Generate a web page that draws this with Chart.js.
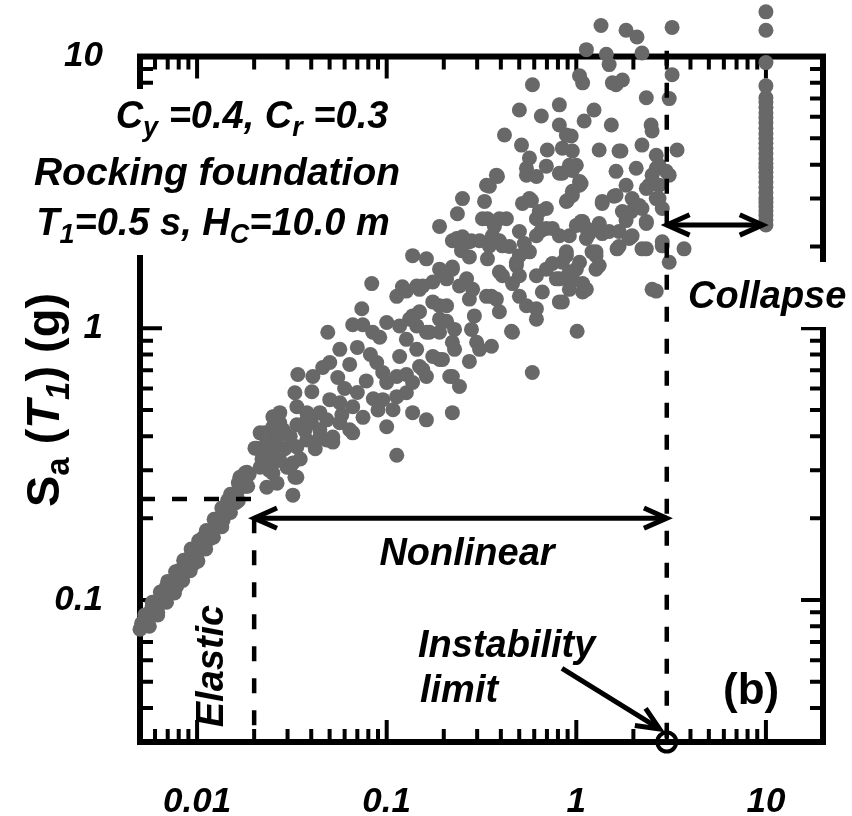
<!DOCTYPE html>
<html>
<head>
<meta charset="utf-8">
<script src="https://cdn.jsdelivr.net/npm/chart.js@4.4.1/dist/chart.umd.min.js"></script>
<style>
html, body { margin: 0; padding: 0; background: #fff; }
</style>
</head>
<body>
<canvas id="chart" width="852" height="816"></canvas>
<script>
// values: x = drift, y = Sa(T1) in g
var elasticPts = [
	[0.0050,0.078],[0.0051,0.082],[0.0053,0.081],[0.0054,0.086],[0.0056,0.087],[0.0057,0.091],
	[0.0059,0.090],[0.0061,0.095],[0.0062,0.099],[0.0064,0.097],[0.0066,0.102],[0.0068,0.106],
	[0.0070,0.104],[0.0071,0.110],[0.0073,0.113],[0.0075,0.111],[0.0077,0.118],[0.0079,0.121],
	[0.0081,0.119],[0.0083,0.126],[0.0085,0.130],[0.0088,0.128],[0.0090,0.135],[0.0092,0.139],
	[0.0095,0.137],[0.0097,0.144],[0.0100,0.149],[0.0103,0.152],[0.0106,0.158],[0.0109,0.163],
	[0.0112,0.166],[0.0115,0.174],[0.0118,0.180],[0.0122,0.182],[0.0126,0.190],[0.0130,0.197],
	[0.0134,0.200],[0.0138,0.210],[0.0142,0.218],[0.0147,0.222],[0.0151,0.232],[0.0156,0.240],
	[0.0161,0.245],[0.0166,0.256],[0.0171,0.265],[0.0176,0.270],[0.0182,0.282],[0.0188,0.290],
	[0.0058,0.095],[0.0069,0.112],[0.0080,0.128],[0.0093,0.146],[0.0108,0.170],[0.0125,0.198],
	[0.0145,0.232],[0.0062,0.090],[0.0078,0.112],[0.0096,0.136],[0.0117,0.168],[0.0137,0.196],
	[0.0160,0.228],[0.0180,0.262],
	[0.0053,0.088],[0.0058,0.098],[0.0064,0.107],[0.0070,0.117],[0.0077,0.127],[0.0085,0.140],
	[0.0093,0.154],[0.0102,0.165],[0.0112,0.180],[0.0123,0.198],[0.0135,0.218],[0.0150,0.245],
	[0.0165,0.270],[0.0056,0.080],[0.0062,0.088],[0.0069,0.098],[0.0076,0.106],[0.0084,0.118],
	[0.0092,0.128],[0.0101,0.139],[0.0111,0.154],[0.0122,0.170],[0.0135,0.186],[0.0150,0.210],
	[0.0165,0.232],[0.0185,0.262]
];

var inelasticPts = [
	[0.0168,0.283],[0.0183,0.295],[0.0179,0.293],[0.0202,0.362],[0.0207,0.362],[0.0215,0.308],
	[0.0215,0.412],[0.0228,0.412],[0.0233,0.388],[0.0233,0.356],[0.0233,0.26],[0.0242,0.347],
	[0.0251,0.434],[0.0251,0.319],[0.0251,0.293],[0.0251,0.472],[0.0264,0.269],[0.0273,0.449],
	[0.0273,0.327],[0.0273,0.356],[0.0273,0.489],[0.0284,0.423],[0.0284,0.412],[0.0298,0.308],
	[0.0309,0.308],[0.032,0.319],[0.0328,0.283],[0.032,0.243],[0.0336,0.441],[0.0336,0.283],
	[0.0336,0.366],[0.0336,0.514],[0.0328,0.579],[0.034,0.676],[0.0379,0.46],[0.0379,0.388],
	[0.0379,0.489],[0.0403,0.584],[0.0408,0.664],[0.0444,0.423],[0.0444,0.398],[0.0444,0.489],
	[0.046,0.717],[0.0483,0.388],[0.0483,0.46],[0.0489,0.966],[0.0501,0.748],[0.0501,0.546],
	[0.052,0.398],[0.052,0.381],[0.022,0.33],[0.026,0.38],[0.029,0.36],[0.031,0.40],
	[0.035,0.33],[0.037,0.42],[0.040,0.45],[0.042,0.36],[0.027,0.40],[0.024,0.30],
	[0.0552,0.659],[0.0566,0.836],[0.0566,0.532],[0.0566,0.449],[0.0638,0.736],[0.0638,0.423],
	[0.0662,1.03],[0.0662,0.514],[0.0662,0.412],[0.0739,1.18],[0.0748,1.03],[0.0834,1.46],
	[0.0844,0.966],[0.0886,0.748],[0.0919,0.926],[0.0953,0.687],[0.0953,0.546],[0.1,1.05],
	[0.1,0.631],[0.1,0.434],[0.06,0.60],[0.07,0.58],[0.078,0.64],[0.085,0.55],
	[0.058,0.48],[0.075,0.47],[0.09,0.50],[0.082,0.80],[0.07,0.85],
	[0.108,0.501],[0.113,1.31],[0.113,0.664],[0.113,0.56],[0.113,0.341],[0.117,1.02],
	[0.117,0.787],[0.121,1.42],[0.127,1.37],[0.127,0.91],[0.127,0.676],[0.127,0.579],
	[0.132,1.08],[0.137,1.85],[0.137,1.11],[0.137,0.631],[0.137,0.489],[0.144,1.43],
	[0.144,0.836],[0.144,1.02],[0.149,1.39],[0.149,1.15],[0.149,0.723],[0.155,1.43],
	[0.155,0.705],[0.162,0.966],[0.162,0.664],[0.162,0.46],[0.162,1.8],[0.168,0.966],
	[0.175,1.48],[0.175,1.25],[0.175,0.787],[0.19,2.37],[0.19,1.65],[0.19,1.21],
	[0.19,0.966],[0.19,0.768],[0.19,1.08],[0.197,1.61],[0.197,0.768],
	[0.207,1.52],[0.207,1.21],[0.207,1.06],[0.215,0.664],[0.222,1.65],[0.222,1.68],
	[0.222,2.1],[0.222,0.888],[0.222,0.664],[0.222,0.489],[0.228,0.99],[0.228,0.836],
	[0.234,2.14],[0.236,2.64],[0.242,1.43],[0.242,0.61],[0.248,1.93],[0.251,3.0],
	[0.251,2.17],[0.264,1.52],[0.273,1.83],[0.273,1.28],[0.273,2.08],[0.273,0.755],
	[0.28,2.1],[0.28,0.99],[0.284,1.39],[0.29,1.11],[0.298,0.888],
	[0.309,2.1],[0.309,0.836],[0.32,2.53],[0.328,2.93],[0.336,3.36],[0.336,1.31],
	[0.34,1.8],[0.34,2.53],[0.348,3.33],[0.348,2.01],[0.357,1.31],[0.357,0.858],
	[0.361,2.19],[0.37,2.37],[0.379,1.28],[0.379,3.66],[0.384,3.62],[0.393,2.53],
	[0.393,1.61],[0.393,1.15],[0.393,2.1],[0.408,2.01],[0.408,1.56],[0.418,5.14],
	[0.428,2.53],[0.444,2.0],[0.455,0.975],[0.461,1.46],[0.461,0.966],[0.483,1.7],[0.483,1.75],
	[0.501,2.27],[0.501,1.85],[0.501,1.31],[0.501,1.56],[0.501,6.36],[0.514,4.72],
	[0.52,2.88],[0.532,2.05],[0.546,3.66],[0.546,3.88],[0.546,1.21],[0.566,3.0],
	[0.566,4.23],[0.566,1.91],[0.58,2.95],[0.586,0.687],[0.587,7.87],[0.616,3.62],
	[0.616,2.53],[0.616,2.19],[0.616,1.56],[0.616,1.18],[0.616,1.08],[0.638,2.69],
	[0.654,2.29],[0.654,6.04],[0.662,1.36],[0.695,3.95],[0.695,2.76],[0.695,2.33],
	[0.695,1.65],[0.703,4.53],[0.748,2.33],[0.748,1.73],[0.785,1.52],[0.814,3.72],
	[0.814,6.64],[0.814,5.6],[0.814,2.19],[0.814,1.25],[0.814,1.52],[0.844,4.6],
	[0.844,3.72],[0.844,1.75],[0.844,1.25],[0.886,5.14],[0.886,1.91],[0.886,2.93],
	[0.886,1.85],[0.886,1.54],[0.897,2.95],[0.919,2.19],[0.919,1.61],[0.919,1.39],
	[0.919,3.98],[0.94,5.1],[0.953,3.81],[0.953,3.19],[0.953,1.52],[0.953,4.49],[0.953,3.08],
	[1.0,3.98],[1.0,2.39],[1.0,1.65],[1.01,0.975],[1.04,8.5],[1.04,3.47],
	[1.04,3.36],[1.04,1.75],[1.06,3.41],[1.06,2.47],[1.08,8.0],[1.08,1.46],
	[1.08,1.36],[1.08,2.47],[1.1,5.79],[1.13,10.6],[1.13,2.14],[1.13,2.33],
	[1.13,1.39],[1.17,2.23],[1.21,1.91],[1.24,6.36],[1.27,1.91],[1.27,1.65],
	[1.27,1.85],[1.32,4.53],[1.32,2.39],[1.32,2.43],[1.32,1.7],[1.35,13.0],
	[1.37,2.93],[1.37,2.88],[1.37,2.23],[1.44,10.2],[1.49,9.34],[1.49,2.27],
	[1.53,5.6],[1.55,8.0],[1.58,3.06],[1.62,7.87],[1.62,3.78],[1.62,3.08],
	[1.64,1.96],[1.68,4.49],[1.68,2.27],[1.68,2.0],[1.72,4.49],[1.75,8.2],
	[1.75,2.69],[1.83,12.5],[1.83,3.36],[1.83,2.49],[1.9,2.14],[1.95,2.69],
	[1.95,2.17],[1.97,3.0],[1.97,2.19],[2.07,3.88],[2.09,11.8],[2.15,2.83],
	[2.22,10.3],[2.22,4.72],[2.22,2.76],[2.22,1.96],[2.34,7.05],[2.34,3.27],
	[2.34,2.47],[2.34,2.43],[2.34,1.96],[2.42,3.36],[2.48,5.6],[2.51,5.32],
	[2.51,3.66],[2.51,1.39],[2.64,4.33],[2.64,3.88],[2.64,3.0],[2.64,1.37],
	[2.73,3.98],[2.73,3.36],[2.73,3.0],[2.84,2.76],[2.84,2.08],[2.84,2.01],
	[2.98,3.78],[3.09,7.0],[3.09,3.66],[3.09,1.75],[3.2,12.8],[3.2,8.57],
	[3.4,4.53],[3.7,1.96]
];

var collapseX = 10;
var collapseY = [2.4,2.5,2.6,2.7,2.8,2.9,3.0,3.15,3.3,3.45,3.6,3.75,3.9,4.05,4.2,4.4,
	4.6,4.8,5.0,5.2,5.45,5.7,5.95,6.2,6.5,6.8,7.05,7.8,9.5,12.5,14.6];

var xTicks = [0.01, 0.1, 1, 10];
var xTickLabels = ["0.01", "0.1", "1", "10"];
var yTicks = [0.1, 1, 10];
var yTickLabels = ["0.1", "1", "10"];

// reference lines of the figure
var instabilityX = 3;
var elasticX = 0.02;
var elasticY = 0.235;
var nonlinearArrowY = 0.2;
var collapseArrowY = 2.4;
var instabilityArrow = [[0.84, 0.056], [2.75, 0.0335]];
var frameTopY = 10;

var FONT = '"Liberation Sans", Arial, Helvetica, sans-serif';
var DOT = "#686868";

function toXY(p) { return { x: p[0], y: p[1] }; }

function tickLabel(vals, labels) {
	return function (v) {
		for (var i = 0; i < vals.length; i++) {
			if (Math.abs(vals[i] - v) / vals[i] < 1e-6) return labels[i];
		}
		return "";
	};
}

// text with subscripts, parts = [text, sub, italic]
function richText(ctx, parts, x, y, size, align) {
	var subSize = Math.round(size * 0.7);
	var widths = [];
	var total = 0;
	parts.forEach(function (p) {
		ctx.font = (p[2] === false ? "" : "italic ") + "bold " + (p[1] ? subSize : size) + "px " + FONT;
		var w = ctx.measureText(p[0]).width;
		widths.push(w);
		total += w;
	});
	var cx = align === "center" ? x - total / 2 : x;
	ctx.textAlign = "left";
	ctx.textBaseline = "alphabetic";
	parts.forEach(function (p, i) {
		ctx.font = (p[2] === false ? "" : "italic ") + "bold " + (p[1] ? subSize : size) + "px " + FONT;
		ctx.fillText(p[0], cx, p[1] ? y + size * 0.22 : y);
		cx += widths[i];
	});
}

function arrowHead(ctx, x, y, ang) {
	var L = 25, s = 0.42;
	ctx.beginPath();
	ctx.moveTo(x - L * Math.cos(ang - s), y - L * Math.sin(ang - s));
	ctx.lineTo(x, y);
	ctx.lineTo(x - L * Math.cos(ang + s), y - L * Math.sin(ang + s));
	ctx.stroke();
}

function arrow(ctx, x1, y1, x2, y2, both) {
	ctx.beginPath();
	ctx.moveTo(x1, y1);
	ctx.lineTo(x2, y2);
	ctx.stroke();
	arrowHead(ctx, x2, y2, Math.atan2(y2 - y1, x2 - x1));
	if (both) arrowHead(ctx, x1, y1, Math.atan2(y1 - y2, x1 - x2));
}

var framePlugin = {
	id: "frame",
	beforeDatasetsDraw: function (chart) {
		var ctx = chart.ctx, a = chart.chartArea;
		var xs = chart.scales.x, ys = chart.scales.y;
		var top = ys.getPixelForValue(frameTopY);
		ctx.save();
		ctx.strokeStyle = "#000";
		ctx.lineWidth = 4;
		ctx.beginPath();
		for (var e = -3; e <= 1; e++) {
			for (var m = 1; m <= 9; m++) {
				var v = m * Math.pow(10, e);
				var len = m === 1 ? 22 : 13;
				if (v > xs.min * 1.001 && v < xs.max * 0.999) {
					var px = xs.getPixelForValue(v);
					ctx.moveTo(px, a.bottom); ctx.lineTo(px, a.bottom - len);
					ctx.moveTo(px, top); ctx.lineTo(px, top + len);
				}
				if (v > ys.min * 1.001 && v < frameTopY * 0.999) {
					var py = ys.getPixelForValue(v);
					ctx.moveTo(a.left, py); ctx.lineTo(a.left + len, py);
					ctx.moveTo(a.right, py); ctx.lineTo(a.right - len, py);
				}
			}
		}
		ctx.stroke();
		ctx.lineWidth = 6;
		ctx.strokeRect(a.left, top, a.right - a.left, a.bottom - top);

		// white backing of the notes
		ctx.fillStyle = "#fff";
		ctx.fillRect(26, 89, 378, 166);
		ctx.fillRect(680, 262, 172, 65);
		ctx.restore();
	},
	afterDatasetsDraw: function (chart) {
		var ctx = chart.ctx;
		var xs = chart.scales.x, ys = chart.scales.y;
		ctx.save();
		ctx.fillStyle = "#000";
		ctx.strokeStyle = "#000";
		ctx.lineWidth = 5;
		ctx.lineJoin = "miter";

		richText(ctx, [["C"], ["y", true], [" =0.4, C"], ["r", true], [" =0.3"]], 252, 128, 38, "center");
		richText(ctx, [["Rocking foundation"]], 217, 185, 39, "center");
		richText(ctx, [["T"], ["1", true], ["=0.5 s, H"], ["C", true], ["=10.0 m"]], 213, 235, 38, "center");
		richText(ctx, [["Collapse"]], 688, 308, 38, "left");
		richText(ctx, [["Nonlinear"]], 467, 565, 38, "center");
		richText(ctx, [["Instability"]], 418, 657, 38, "left");
		richText(ctx, [["limit"]], 420, 702, 38, "left");
		richText(ctx, [["(b)", false, false]], 723, 704, 44, "left");

		ctx.save();
		ctx.translate(223, 666);
		ctx.rotate(-Math.PI / 2);
		richText(ctx, [["Elastic"]], 0, 0, 38, "center");
		ctx.restore();

		// y axis title
		ctx.save();
		ctx.translate(59, 400);
		ctx.rotate(-Math.PI / 2);
		richText(ctx, [["S", false, false], ["a", true, false], [" (", false, false], ["T"], ["1", true],
			[")", false, false], [" (g)", false, false]], 0, 0, 47, "center");
		ctx.restore();

		// arrows
		var yN = ys.getPixelForValue(nonlinearArrowY);
		arrow(ctx, xs.getPixelForValue(elasticX), yN, xs.getPixelForValue(instabilityX), yN, true);
		var yC = ys.getPixelForValue(collapseArrowY);
		arrow(ctx, xs.getPixelForValue(instabilityX), yC, xs.getPixelForValue(collapseX * 0.96), yC, true);
		arrow(ctx, xs.getPixelForValue(instabilityArrow[0][0]), ys.getPixelForValue(instabilityArrow[0][1]),
			xs.getPixelForValue(instabilityArrow[1][0]), ys.getPixelForValue(instabilityArrow[1][1]), false);
		ctx.restore();
	}
};

var dashed = {
	showLine: true,
	pointRadius: 0,
	borderColor: "#000",
	borderWidth: 4.5,
	borderDash: [15, 17],
	clip: false,
	order: 1
};

var dots = {
	pointRadius: 7.5,
	borderWidth: 0,
	backgroundColor: DOT,
	clip: false,
	order: 2
};

var ctx = document.getElementById("chart");

var chart = new Chart(ctx, {
	type: "scatter",
	data: {
		datasets: [
			Object.assign({ data: [{ x: instabilityX, y: 10.5 }, { x: instabilityX, y: 0.03 }] }, dashed),
			Object.assign({ data: [{ x: elasticX, y: nonlinearArrowY }, { x: elasticX, y: 0.03 }] }, dashed),
			Object.assign({ data: [{ x: 0.005, y: elasticY }, { x: 0.021, y: elasticY }] }, dashed),
			{
				data: [{ x: instabilityX, y: 0.03 }],
				pointRadius: 9.5,
				borderWidth: 4,
				borderColor: "#000",
				backgroundColor: "rgba(0,0,0,0)",
				clip: false,
				order: 0
			},
			Object.assign({ data: elasticPts.map(toXY) }, dots),
			Object.assign({ data: inelasticPts.map(toXY) }, dots),
			Object.assign({ data: collapseY.map(function (v) { return { x: collapseX, y: v }; }) }, dots)
		]
	},
	options: {
		responsive: false,
		animation: false,
		events: [],
		layout: { padding: { top: 4, right: 29, left: 0, bottom: 0 } },
		plugins: {
			legend: { display: false },
			tooltip: { enabled: false }
		},
		scales: {
			x: {
				type: "logarithmic",
				min: 0.005,
				max: 20,
				grid: { display: false },
				border: { display: false },
				afterFit: function (s) {
					s.height = 74;
					s.paddingLeft = 0;
					s.paddingRight = 0;
				},
				ticks: {
					autoSkip: false,
					maxRotation: 0,
					padding: 31,
					color: "#000",
					font: { family: FONT, size: 35, weight: "bold", style: "italic" },
					callback: tickLabel(xTicks, xTickLabels)
				}
			},
			y: {
				type: "logarithmic",
				min: 0.03,
				max: 14.4,
				grid: { display: false },
				border: { display: false },
				afterFit: function (s) {
					s.width = 140;
					s.paddingTop = 0;
					s.paddingBottom = 0;
				},
				ticks: {
					autoSkip: false,
					padding: 29,
					color: "#000",
					font: { family: FONT, size: 35, weight: "bold", style: "italic" },
					callback: tickLabel(yTicks, yTickLabels)
				}
			}
		}
	},
	plugins: [framePlugin]
});
</script>
</body>
</html>
